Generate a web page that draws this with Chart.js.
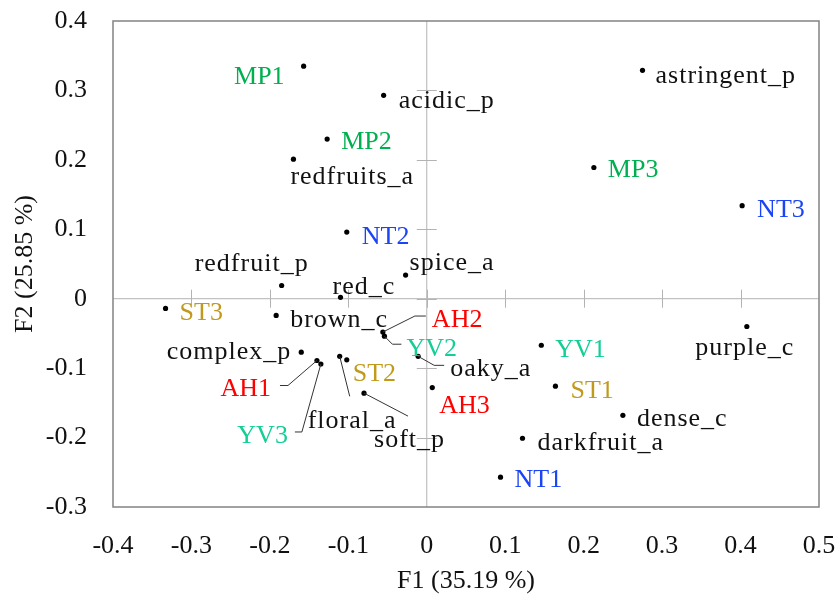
<!DOCTYPE html>
<html>
<head>
<meta charset="utf-8">
<title>PCA biplot F1 / F2</title>
<script src="https://cdn.jsdelivr.net/npm/chart.js@4.4.1/dist/chart.umd.min.js"></script>
<style>
  html, body { margin: 0; padding: 0; background: #fff; }
  #wrap { width: 837px; height: 595px; }
</style>
</head>
<body>
<div id="wrap"><canvas id="pcaChart" width="837" height="595"></canvas></div>
<script>
/* ---------- data ---------- */
const names = ["MP1", "acidic_p", "MP2", "redfruits_a", "astringent_p", "MP3", "NT3", "NT2",
    "spice_a", "redfruit_p", "red_c", "ST3", "brown_c", "AH2", "YV2", "complex_p", "AH1", "YV3",
    "floral_a", "ST2", "soft_p", "oaky_a", "AH3", "YV1", "purple_c", "ST1", "dense_c",
    "darkfruit_a", "NT1"];
const f1 = [-0.157, -0.055, -0.127, -0.170, 0.275, 0.213, 0.402, -0.102,
    -0.027, -0.185, -0.110, -0.333, -0.192, -0.056, -0.054, -0.160, -0.140, -0.135,
    -0.111, -0.102, -0.080, -0.011, 0.007, 0.146, 0.408, 0.164, 0.250,
    0.122, 0.094];
const f2 = [0.335, 0.293, 0.230, 0.201, 0.329, 0.189, 0.134, 0.096,
    0.034, 0.019, 0.002, -0.014, -0.024, -0.048, -0.054, -0.077, -0.089, -0.094,
    -0.083, -0.088, -0.136, -0.083, -0.128, -0.067, -0.040, -0.126, -0.168,
    -0.201, -0.257];
const groups = ["MP", "attr", "MP", "attr", "attr", "MP", "NT", "NT",
    "attr", "attr", "attr", "ST", "attr", "AH", "YV", "attr", "AH", "YV",
    "attr", "ST", "attr", "attr", "AH", "YV", "attr", "ST", "attr",
    "attr", "NT"];
const xTicks = [-0.4, -0.3, -0.2, -0.1, 0, 0.1, 0.2, 0.3, 0.4, 0.5];
const yTicks = [-0.3, -0.2, -0.1, 0, 0.1, 0.2, 0.3, 0.4];
const xTitle = "F1 (35.19 %)";
const yTitle = "F2 (25.85 %)";

/* ---------- style ---------- */
const groupColors = { MP: "#00B050", NT: "#1A44F5", ST: "#C19A1B", AH: "#FF0000", YV: "#13CE95", attr: "#111111" };
const FONT = "'Liberation Serif', 'Times New Roman', serif";

/* label placement relative to the dot, in px: [align, dx, dy, leader points] */
const labelLayout = {
    "MP1": ["right", -19, 9], "acidic_p": ["left", 15, 4], "MP2": ["left", 14, 1],
    "redfruits_a": ["left", -3, 16], "astringent_p": ["left", 13, 4], "MP3": ["left", 14, 1],
    "NT3": ["left", 15, 2], "NT2": ["left", 15, 3], "spice_a": ["left", 4, -14],
    "redfruit_p": ["center", -30, -23], "red_c": ["left", -8, -12], "ST3": ["left", 14, 3],
    "brown_c": ["left", 14, 3],
    "AH2": ["left", 49, -14, [[32, -16], [43, -16]]],
    "YV2": ["left", 22, 11, [[8, 8], [17, 8]]],
    "complex_p": ["right", -10, -2],
    "AH1": ["right", -46, 27, [[-29, 25], [-37, 25]]],
    "YV3": ["right", -33, 70, [[-19, 68], [-26, 68]]],
    "floral_a": ["left", -32, 63, [[10, 40]]],
    "ST2": ["left", 6, 12],
    "soft_p": ["left", 10, 45, [[44, 23]]],
    "oaky_a": ["left", 32, 11, [[16, 9], [26, 9]]],
    "AH3": ["left", 7, 17], "YV1": ["left", 14, 3], "purple_c": ["center", -2, 20],
    "ST1": ["left", 15, 3], "dense_c": ["left", 14, 2], "darkfruit_a": ["left", 15, 3],
    "NT1": ["left", 14, 1]
};
const TEXT_SHIFT = 2; // 'middle' baseline sits a little high for this font

/* ---------- frame, zero axes with ticks ---------- */
const frameAxes = {
    id: "frameAxes",
    beforeDatasetsDraw(chart) {
        const { ctx, chartArea: a, scales: { x, y } } = chart;
        const x0 = x.getPixelForValue(0), y0 = y.getPixelForValue(0);
        ctx.save();
        ctx.strokeStyle = "#b3b3b3";
        ctx.lineWidth = 1;
        ctx.beginPath();
        ctx.moveTo(a.left, y0); ctx.lineTo(a.right, y0);
        ctx.moveTo(x0, a.top); ctx.lineTo(x0, a.bottom);
        xTicks.forEach(function (v) {
            if (v === xTicks[0] || v === xTicks[xTicks.length - 1]) return;
            const px = Math.round(x.getPixelForValue(v)) + 0.5;
            ctx.moveTo(px, y0 - 9); ctx.lineTo(px, y0 + 9);
        });
        yTicks.forEach(function (v) {
            if (v === yTicks[0] || v === yTicks[yTicks.length - 1]) return;
            const py = Math.round(y.getPixelForValue(v)) + 0.5;
            ctx.moveTo(x0 - 10, py); ctx.lineTo(x0 + 10, py);
        });
        ctx.stroke();
        ctx.strokeStyle = "#8a8a8a";
        ctx.lineWidth = 1.6;
        ctx.strokeRect(a.left, a.top, a.right - a.left, a.bottom - a.top);
        ctx.restore();
    }
};

/* ---------- point labels and leader lines ---------- */
const pointLabels = {
    id: "pointLabels",
    afterDatasetsDraw(chart) {
        const { ctx, scales: { x, y } } = chart;
        ctx.save();
        ctx.textBaseline = "middle";
        names.forEach(function (name, i) {
            const px = x.getPixelForValue(f1[i]);
            const py = y.getPixelForValue(f2[i]);
            const lay = labelLayout[name];
            if (lay[3]) {
                ctx.strokeStyle = "#333";
                ctx.lineWidth = 1;
                ctx.beginPath();
                ctx.moveTo(px, py);
                lay[3].forEach(function (p) { ctx.lineTo(px + p[0], py + p[1]); });
                ctx.stroke();
            }
            const isAttr = groups[i] === "attr";
            ctx.font = "26px " + FONT;
            ctx.letterSpacing = isAttr ? "1px" : "0px";
            ctx.fillStyle = groupColors[groups[i]];
            ctx.textAlign = lay[0];
            ctx.fillText(name, px + lay[1], py + lay[2] + TEXT_SHIFT);
        });
        ctx.restore();
    }
};

/* ---------- chart ---------- */
function fmtTick(v) { return String(Number(v.toFixed(1))); }

new Chart(document.getElementById("pcaChart").getContext("2d"), {
    type: "scatter",
    data: {
        datasets: [{
            data: f1.map(function (v, i) { return { x: v, y: f2[i] }; }),
            pointRadius: 2.6,
            pointHoverRadius: 2.6,
            pointBackgroundColor: "#000",
            pointBorderWidth: 0
        }]
    },
    options: {
        responsive: false,
        animation: false,
        layout: { padding: { left: 0, top: 21, right: 18, bottom: 0 } },
        plugins: { legend: { display: false }, tooltip: { enabled: false } },
        scales: {
            x: {
                type: "linear", min: xTicks[0], max: xTicks[xTicks.length - 1],
                afterBuildTicks: function (s) { s.ticks = xTicks.map(function (v) { return { value: v }; }); },
                afterFit: function (s) { s.height = 88; s.paddingLeft = 0; s.paddingRight = 0; },
                grid: { display: false, drawTicks: false },
                border: { display: false },
                ticks: { callback: fmtTick, padding: 24, color: "#111", font: { family: FONT, size: 26 }, maxRotation: 0 },
                title: { display: true, text: xTitle, color: "#111", font: { family: FONT, size: 26 }, padding: { top: 0, bottom: -2 } }
            },
            y: {
                type: "linear", min: yTicks[0], max: yTicks[yTicks.length - 1],
                afterBuildTicks: function (s) { s.ticks = yTicks.map(function (v) { return { value: v }; }); },
                afterFit: function (s) { s.width = 113; s.paddingTop = 0; s.paddingBottom = 0; },
                grid: { display: false, drawTicks: false },
                border: { display: false },
                ticks: { callback: fmtTick, padding: 26, color: "#111", font: { family: FONT, size: 26 } },
                title: { display: true, text: yTitle, color: "#111", font: { family: FONT, size: 26 }, padding: { top: 10, bottom: 0 } }
            }
        }
    },
    plugins: [frameAxes, pointLabels]
});
</script>
</body>
</html>
